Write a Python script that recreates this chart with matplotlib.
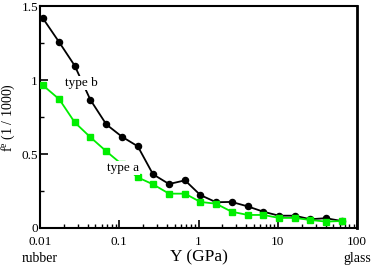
import numpy as np
import matplotlib.pyplot as plt
from matplotlib.ticker import FixedLocator, FixedFormatter, LogLocator, NullFormatter

plt.rcParams['font.family'] = ['Liberation Serif', 'DejaVu Serif']
plt.rcParams['mathtext.fontset'] = 'custom'
plt.rcParams['mathtext.rm'] = 'Liberation Serif'
plt.rcParams['mathtext.it'] = 'Liberation Serif'

# data
y_mod = [0.0108, 0.0175, 0.0274, 0.0431, 0.0686, 0.108, 0.171, 0.266, 0.424, 0.674,
         1.05, 1.66, 2.61, 4.16, 6.55, 10.3, 16.3, 25.6, 40.4, 63.5]
type_b = [1.42, 1.255, 1.097, 0.867, 0.70, 0.617, 0.552, 0.363, 0.297, 0.322,
          0.223, 0.174, 0.176, 0.146, 0.11, 0.083, 0.083, 0.059, 0.066, 0.047]
type_a = [0.966, 0.87, 0.714, 0.614, 0.518, 0.43, 0.342, 0.295, 0.232, 0.232,
          0.176, 0.164, 0.11, 0.088, 0.088, 0.068, 0.068, 0.054, 0.043, 0.047]
x_ticks = [0.01, 0.1, 1, 10, 100]
x_labels = ['0.01', '0.1', '1', '10', '100']
y_ticks = [0, 0.5, 1, 1.5]
y_labels = ['0', '0.5', '1', '1.5']

fig = plt.figure(figsize=(3.74, 2.66), dpi=100)
ax = fig.add_axes([0.107, 0.143, 0.848, 0.834])

ax.plot(y_mod, type_b, '-o', color='black', lw=1.3, ms=4.4, zorder=3)
ax.plot(y_mod, type_a, '-s', color='#00ee00', lw=1.3, ms=3.8, zorder=3)

ax.text(0.033, 0.98, 'type b', fontsize=9.5, ha='center', va='center', zorder=4,
        bbox=dict(fc='white', ec='none', pad=0.5))
ax.text(0.112, 0.405, 'type a', fontsize=9.5, ha='center', va='center', zorder=4,
        bbox=dict(fc='white', ec='none', pad=0.5))

ax.set_xscale('log')
ax.set_xlim(0.01, 100)
ax.set_ylim(0, 1.5)
ax.xaxis.set_major_locator(FixedLocator(x_ticks))
ax.xaxis.set_major_formatter(FixedFormatter(x_labels))
ax.xaxis.set_minor_locator(LogLocator(base=10, subs=np.arange(2, 10)))
ax.xaxis.set_minor_formatter(NullFormatter())
ax.yaxis.set_major_locator(FixedLocator(y_ticks))
ax.yaxis.set_major_formatter(FixedFormatter(y_labels))
ax.yaxis.set_minor_locator(FixedLocator([0.25, 0.75, 1.25]))

ax.tick_params(which='both', direction='in', top=False, right=False, labelsize=9.5)
ax.tick_params(which='major', length=6, width=1.2)
ax.tick_params(which='minor', length=3, width=1.0)
ax.tick_params(axis='x', pad=5.5)
ax.tick_params(axis='y', pad=1.5)
for s in ax.spines.values():
    s.set_linewidth(1.5)
ax.spines['right'].set_linewidth(2)

ax.set_xlabel('Y (GPa)', fontsize=12.5, labelpad=1)
ax.set_ylabel('f$^{\\rm e}$ (1 / 1000)', fontsize=10, labelpad=3)

ax.text(0.0, -0.11, 'rubber', transform=ax.transAxes, ha='center', va='top', fontsize=10)
ax.text(1.0, -0.11, 'glass', transform=ax.transAxes, ha='center', va='top', fontsize=10)

fig.savefig('out.png', dpi=100)
